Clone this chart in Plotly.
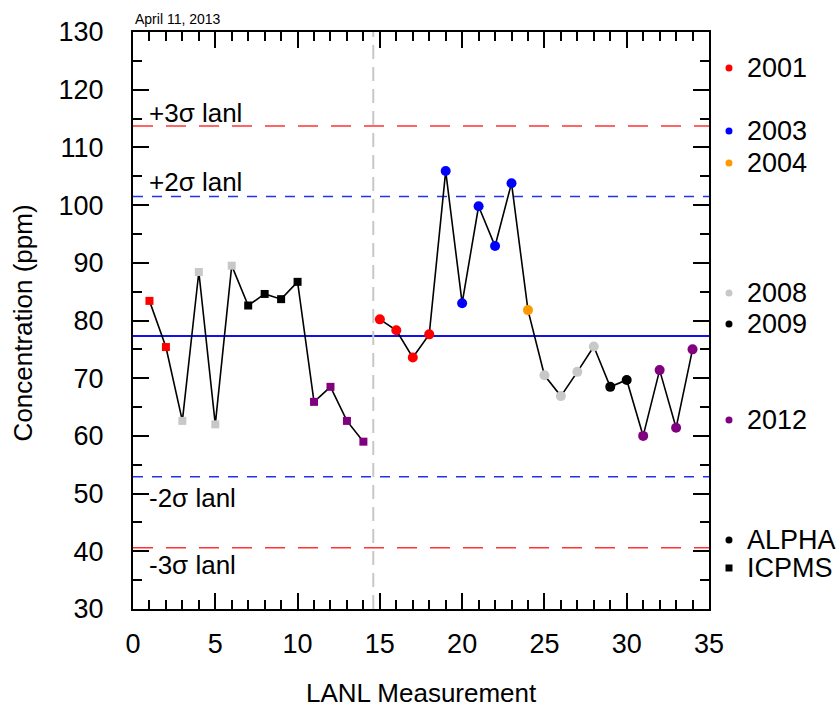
import plotly.graph_objects as go

# ---------------- data ----------------
icpms_x = list(range(1, 15))
icpms_y = [83.4, 75.4, 62.6, 88.4, 62.0, 89.5, 82.6, 84.6, 83.7, 86.7, 65.9, 68.5, 62.6, 59.0]
icpms_year = ["2001", "2001", "2008", "2008", "2008", "2008", "2009", "2009", "2009", "2009",
              "2012", "2012", "2012", "2012"]

alpha_x = list(range(15, 35))
alpha_y = [80.2, 78.3, 73.6, 77.6, 105.9, 83.0, 99.8, 92.9, 103.8, 81.8,
           70.5, 66.9, 71.1, 75.5, 68.5, 69.7, 60.0, 71.4, 61.4, 75.0]
alpha_year = ["2001", "2001", "2001", "2001", "2003", "2003", "2003", "2003", "2003", "2004",
              "2008", "2008", "2008", "2008", "2009", "2009", "2012", "2012", "2012", "2012"]

years = ["2001", "2003", "2004", "2008", "2009", "2012"]
year_colors = ["#FF0000", "#0000FF", "#FF9900", "#C8C8C8", "#000000", "#800080"]

mean_val = 77.3
plus2 = 101.5
plus3 = 113.7
minus2 = 52.9
minus3 = 40.6
divider_x = 14.6

x_ticks = [0, 5, 10, 15, 20, 25, 30, 35]
y_ticks = [30, 40, 50, 60, 70, 80, 90, 100, 110, 120, 130]

legend_labels = ["2001", "2003", "2004", "2008", "2009", "2012", "ALPHA", "ICPMS"]
legend_colors = year_colors + ["#000000", "#000000"]
legend_is_square = [False] * 7 + [True]
legend_pos = [0.9376, 0.8284, 0.7730, 0.5477, 0.4939, 0.3276, 0.1196, 0.0711]

cmap = dict(zip(years, year_colors))
FONT = "Arial, Liberation Sans, sans-serif"

fig = go.Figure()

# reference lines
for val, col, dash, w in [(plus3, "#FF3333", "20px,13px", 1.5), (minus3, "#FF3333", "20px,13px", 1.5),
                          (plus2, "#2233EE", "10px,9px", 1.5), (minus2, "#2233EE", "10px,9px", 1.5),
                          (mean_val, "#1111EE", "solid", 2)]:
    fig.add_trace(go.Scatter(x=[0, 35], y=[val, val], mode="lines",
                             line=dict(color=col, width=w, dash=dash),
                             hoverinfo="skip", showlegend=False))
fig.add_trace(go.Scatter(x=[divider_x, divider_x], y=[30, 130], mode="lines",
                         line=dict(color="#C8C8C8", width=2, dash="14px,8px"),
                         hoverinfo="skip", showlegend=False))

# series
fig.add_trace(go.Scatter(x=icpms_x, y=icpms_y, mode="lines+markers",
                         line=dict(color="black", width=1.6),
                         marker=dict(symbol="square", size=8,
                                     color=[cmap[y] for y in icpms_year], line=dict(width=0)),
                         showlegend=False, cliponaxis=False))
fig.add_trace(go.Scatter(x=alpha_x, y=alpha_y, mode="lines+markers",
                         line=dict(color="black", width=1.6),
                         marker=dict(symbol="circle", size=10,
                                     color=[cmap[y] for y in alpha_year], line=dict(width=0)),
                         showlegend=False, cliponaxis=False))

# custom legend (outside the plot, paper coordinates)
shapes = []
annotations = []
LEG_MARK_X = 1.0347
LEG_TEXT_X = 1.0625
for lab, pos, col, sq in zip(legend_labels, legend_pos, legend_colors, legend_is_square):
    shapes.append(dict(type="rect" if sq else "circle", xref="paper", yref="paper",
                       xsizemode="pixel", ysizemode="pixel",
                       xanchor=LEG_MARK_X, yanchor=pos,
                       x0=-3.5, x1=3.5, y0=-3.5, y1=3.5,
                       fillcolor=col, line=dict(width=0)))
    annotations.append(dict(x=LEG_TEXT_X, y=pos, xref="paper", yref="paper", text=lab,
                            showarrow=False, xanchor="left", yanchor="middle",
                            font=dict(family=FONT, size=27, color="black")))

for txt, yv in [("+3σ lanl", 116.0), ("+2σ lanl", 104.0), ("-2σ lanl", 49.3), ("-3σ lanl", 37.7)]:
    annotations.append(dict(x=0.85, y=yv, xref="x", yref="y", text=txt, showarrow=False,
                            xanchor="left", yanchor="middle",
                            font=dict(family=FONT, size=26, color="black")))

annotations.append(dict(x=0, y=1 + 13 / 577, xref="paper", yref="paper", text="April 11, 2013",
                        showarrow=False, xanchor="left", yanchor="middle",
                        font=dict(family=FONT, size=14, color="black")))
annotations.append(dict(x=-110 / 576, y=0.495, xref="paper", yref="paper", text="Concentration (ppm)",
                        showarrow=False, textangle=-90, xanchor="center", yanchor="middle",
                        font=dict(family=FONT, size=26, color="black")))
annotations.append(dict(x=288 / 576, y=-84 / 577, xref="paper", yref="paper", text="LANL Measurement",
                        showarrow=False, xanchor="center", yanchor="middle",
                        font=dict(family=FONT, size=26, color="black")))

axis_common = dict(showgrid=False, zeroline=False, showline=True, linecolor="black", linewidth=2,
                   mirror="ticks", ticks="inside", tickcolor="black", tickwidth=1.5, ticklen=16,
                   automargin=False,
                   tickfont=dict(family=FONT, size=27, color="black"))

fig.update_layout(
    width=838, height=708, autosize=False,
    margin=dict(l=133, r=129, t=32, b=99, pad=0, autoexpand=False),
    paper_bgcolor="white", plot_bgcolor="white",
    showlegend=False,
    xaxis=dict(range=[0, 35], tickvals=x_ticks,
               minor=dict(dtick=1, ticks="inside", ticklen=9, tickcolor="black", tickwidth=1.5),
               ticklabelstandoff=10, **axis_common),
    yaxis=dict(range=[30, 130], tickvals=y_ticks,
               minor=dict(dtick=5, ticks="inside", ticklen=9, tickcolor="black", tickwidth=1.5),
               ticklabelstandoff=22, **axis_common),
    shapes=shapes,
    annotations=annotations,
)

fig.write_html("out.html")
